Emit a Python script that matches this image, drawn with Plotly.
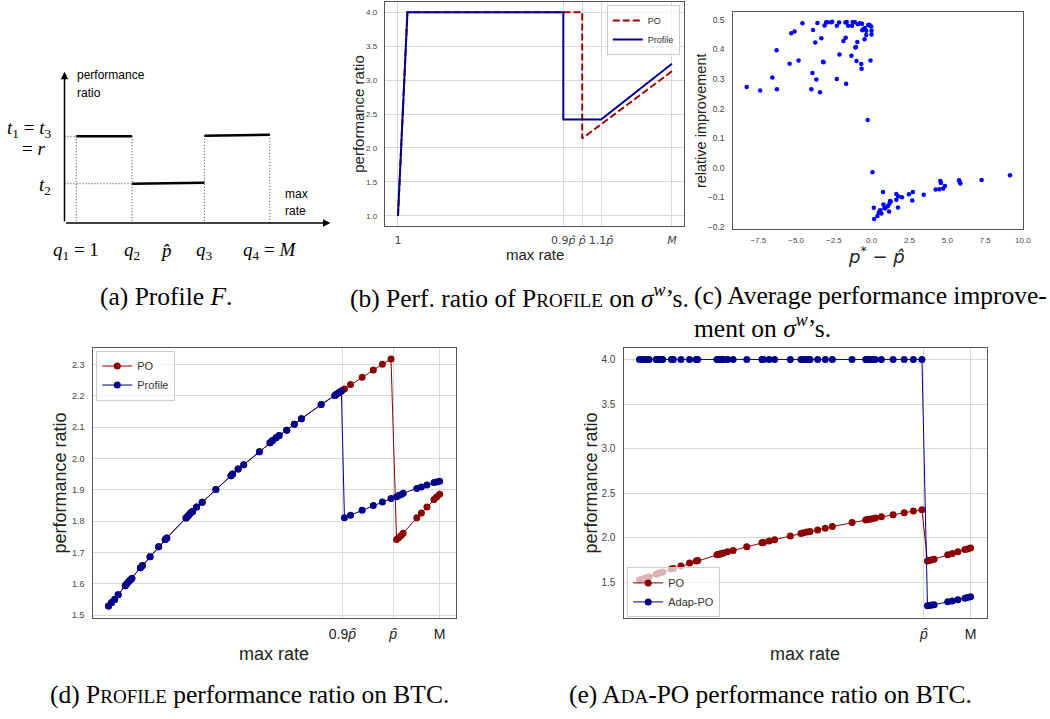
import plotly.graph_objects as go

W, H = 1050, 719

def px(x):
    return x / W

def py(y):
    return 1 - y / H

SANS = "Liberation Sans, Arial, sans-serif"
SERIF = "Liberation Serif, Times New Roman, serif"
MATH = "DejaVu Sans, sans-serif"
RED = "#8b0000"
NAVY = "#00008b"
GRID = "#d9d9d9"
FRAME = "#555555"
TICKC = "#444444"

# ---------------- data ----------------
# (a) schematic profile F
a_q = [0.22, 1.27, 2.63, 3.86]          # q1..q4 positions
a_phat = 1.90
a_t_start = [1.72, 0.78, 1.73]           # levels t1, t2, t3 (segment start)
a_t_end = [1.72, 0.80, 1.75]             # levels t1, t2, t3 (segment end)

# (b) performance ratio of PROFILE on sigma^w
b_phat = 40
b_M = 59
b_rate_po = [1, 3, 40, 40, 59]
b_ratio_po = [1.0, 4.0, 4.0, 2.14, 3.13]
b_rate_profile = [1, 3, 36, 36, 44, 59]
b_ratio_profile = [1.0, 4.0, 4.0, 2.42, 2.42, 3.24]
b_tick_vals = [1, 0.9 * b_phat, b_phat, 1.1 * b_phat, b_M]
b_tick_text = ["1", "0.9<i>p̂</i>", "<i>p̂</i>", "1.1<i>p̂</i>", "<i>M</i>"]

# (c) relative improvement vs p* - p_hat
c_x = [-8.27, -7.38, -6.57, -6.29, -6.27, -5.43, -5.32, -5.10, -4.84, -4.58,
       -3.99, -3.92, -3.88, -3.73, -3.66, -3.59, -3.42, -3.33, -3.22, -3.18,
       -3.12, -3.01, -2.92, -2.68, -2.61, -2.31, -2.31, -2.15, -2.13, -1.87,
       -1.74, -1.72, -1.69, -1.65, -1.56, -1.34, -1.30, -1.26, -1.10, -1.08,
       -1.04, -1.00, -0.95, -0.91, -0.78, -0.69, -0.67, -0.64, -0.62, -0.54,
       -0.47, -0.45, -0.36, -0.36, -0.23, -0.16, -0.12, -0.08, -0.03, -0.01,
       -0.01, -0.27, 0.05,
       0.14, 0.16, 0.38, 0.47, 0.56, 0.64, 0.75, 0.78, 0.84, 0.90,
       1.06, 1.15, 1.17, 1.21, 1.26, 1.63, 1.63, 1.74, 1.76, 2.00,
       2.46, 2.68, 2.72, 3.44, 4.23, 4.47, 4.54, 4.58, 4.73, 4.84,
       5.78, 5.82, 5.87, 7.27, 9.15]
c_y = [0.273, 0.261, 0.305, 0.397, 0.265, 0.352, 0.455, 0.461, 0.363, 0.489,
       0.265, 0.320, 0.466, 0.424, 0.298, 0.490, 0.255, 0.438, 0.358, 0.357,
       0.481, 0.492, 0.492, 0.492, 0.494, 0.480, 0.300, 0.491, 0.383, 0.429,
       0.491, 0.440, 0.284, 0.493, 0.480, 0.379, 0.480, 0.493, 0.492, 0.407,
       0.408, 0.361, 0.425, 0.485, 0.489, 0.351, 0.335, 0.487, 0.465, 0.469,
       0.435, 0.473, 0.449, 0.463, 0.483, 0.484, 0.481, 0.363, 0.478, 0.463,
       0.451, 0.161, -0.016,
       -0.136, -0.174, -0.164, -0.152, -0.144, -0.155, -0.083, -0.125, -0.138, -0.138,
       -0.131, -0.149, -0.122, -0.113, -0.115, -0.089, -0.109, -0.135, -0.097, -0.100,
       -0.090, -0.111, -0.083, -0.092, -0.074, -0.073, -0.045, -0.052, -0.071, -0.062,
       -0.043, -0.049, -0.054, -0.042, -0.026]

# (d), (e) BTC
btc_phat = 10.0
btc_M = 10.92
btc_rate = [4.38, 4.44, 4.50, 4.57, 4.71, 4.74, 4.77, 4.81, 4.84, 5.01,
            5.05, 5.20, 5.37, 5.50, 5.53, 5.91, 5.94, 5.97, 6.00, 6.04,
            6.12, 6.23, 6.50, 6.80, 6.83, 6.94, 7.05, 7.36, 7.57, 7.62,
            7.69, 7.75, 7.90, 8.05, 8.19, 8.58, 8.85, 8.88, 8.93, 8.98,
            9.04, 9.16, 9.39, 9.61, 9.79, 9.96, 10.07, 10.11, 10.16, 10.20,
            10.47, 10.56, 10.67, 10.81, 10.86, 10.92]
btc_po = [1.529, 1.540, 1.550, 1.565, 1.594, 1.600, 1.606, 1.612, 1.617, 1.651,
          1.658, 1.686, 1.718, 1.741, 1.746, 1.810, 1.815, 1.820, 1.826, 1.831,
          1.845, 1.860, 1.901, 1.945, 1.950, 1.966, 1.980, 2.021, 2.050, 2.057,
          2.066, 2.073, 2.090, 2.109, 2.127, 2.172, 2.201, 2.205, 2.210, 2.215,
          2.222, 2.236, 2.259, 2.282, 2.301, 2.317, 1.741, 1.747, 1.754, 1.761,
          1.811, 1.826, 1.845, 1.869, 1.877, 1.886]
btc_profile = [1.529, 1.540, 1.550, 1.565, 1.594, 1.600, 1.606, 1.612, 1.617, 1.651,
               1.658, 1.686, 1.718, 1.741, 1.746, 1.810, 1.815, 1.820, 1.826, 1.831,
               1.845, 1.860, 1.901, 1.945, 1.950, 1.966, 1.980, 2.021, 2.050, 2.057,
               2.066, 2.073, 2.090, 2.109, 2.127, 2.172, 2.201, 2.205, 2.210, 2.215,
               1.811, 1.819, 1.835, 1.850, 1.861, 1.872, 1.878, 1.882, 1.885, 1.889,
               1.904, 1.909, 1.915, 1.923, 1.925, 1.927]
btc_adap_po = [4.0] * 46 + [1.240, 1.243, 1.247, 1.251, 1.284, 1.293, 1.307, 1.325, 1.331, 1.340]

d_tick_vals = [0.9 * btc_phat, btc_phat, btc_M]
d_tick_text = ["0.9<i>p̂</i>", "<i>p̂</i>", "M"]
e_tick_vals = [btc_phat, btc_M]
e_tick_text = ["<i>p̂</i>", "M"]

# ---------------- figure ----------------
fig = go.Figure()

# (a) schematic
for i in range(3):
    fig.add_trace(go.Scatter(x=[a_q[i], a_q[i + 1]], y=[a_t_start[i], a_t_end[i]],
                             mode="lines", line=dict(color="black", width=2.5),
                             xaxis="x", yaxis="y", showlegend=False, hoverinfo="skip"))
dot_x = [a_q[0], a_q[0], None, a_q[1], a_q[1], None, a_q[2], a_q[2], None, a_q[3], a_q[3], None,
         0, a_q[0], None, 0, a_q[1]]
dot_y = [a_t_start[0], 0, None, a_t_end[0], 0, None, a_t_start[2], 0, None, a_t_end[2], 0, None,
         a_t_start[0], a_t_start[0], None, a_t_start[1], a_t_start[1]]
fig.add_trace(go.Scatter(x=dot_x, y=dot_y, mode="lines",
                         line=dict(color="#333333", width=1, dash="1px,2px"),
                         xaxis="x", yaxis="y", showlegend=False, hoverinfo="skip"))

# (b)
fig.add_trace(go.Scatter(x=b_rate_po, y=b_ratio_po, mode="lines", name="PO",
                         line=dict(color="#a00000", width=2, dash="7px,3px"),
                         xaxis="x2", yaxis="y2", legend="legend"))
fig.add_trace(go.Scatter(x=b_rate_profile, y=b_ratio_profile, mode="lines", name="Profile",
                         line=dict(color=NAVY, width=2),
                         xaxis="x2", yaxis="y2", legend="legend"))

# (c)
fig.add_trace(go.Scatter(x=c_x, y=c_y, mode="markers",
                         marker=dict(color="#0000ff", size=4.5),
                         xaxis="x3", yaxis="y3", showlegend=False))

# (d)
fig.add_trace(go.Scatter(x=btc_rate, y=btc_po, mode="lines+markers", name="PO",
                         line=dict(color=RED, width=1), marker=dict(color=RED, size=7),
                         xaxis="x4", yaxis="y4", legend="legend2"))
fig.add_trace(go.Scatter(x=btc_rate, y=btc_profile, mode="lines+markers", name="Profile",
                         line=dict(color=NAVY, width=1), marker=dict(color=NAVY, size=7),
                         xaxis="x4", yaxis="y4", legend="legend2"))

# (e)
fig.add_trace(go.Scatter(x=btc_rate, y=btc_po, mode="lines+markers", name="PO",
                         line=dict(color=RED, width=1), marker=dict(color=RED, size=7),
                         xaxis="x5", yaxis="y5", legend="legend3"))
fig.add_trace(go.Scatter(x=btc_rate, y=btc_adap_po, mode="lines+markers", name="Adap-PO",
                         line=dict(color=NAVY, width=1), marker=dict(color=NAVY, size=7),
                         xaxis="x5", yaxis="y5", legend="legend3"))


def framed(**kw):
    d = dict(showline=True, mirror=True, linecolor=FRAME, linewidth=1.4, zeroline=False,
             ticks="", ticklen=0, tickfont=dict(family=SANS, size=9, color=TICKC),
             showgrid=True, gridcolor=GRID, gridwidth=1, fixedrange=True)
    d.update(kw)
    return d


LEG_BG = "rgba(255,255,255,0.7)"

fig.update_layout(
    width=W, height=719, margin=dict(l=0, r=0, t=0, b=0),
    paper_bgcolor="white", plot_bgcolor="white",
    xaxis=dict(domain=[0, px(333)], range=[-1.2127, 5], visible=False, fixedrange=True),
    yaxis=dict(domain=[py(270), py(60)], range=[-0.908, 3.237], visible=False, fixedrange=True),
    xaxis2=framed(domain=[px(388), px(689)], range=[-1.74, 61.5], anchor="y2",
                  tickvals=b_tick_vals, ticktext=b_tick_text,
                  tickfont=dict(family=MATH, size=11, color=TICKC), ticklabelstandoff=4),
    yaxis2=framed(domain=[py(227), py(2)], range=[0.85, 4.15], anchor="x2",
                  dtick=0.5, tick0=0, tickformat=".1f",
                  tickfont=dict(family=SANS, size=8, color=TICKC), ticklabelstandoff=5),
    xaxis3=framed(domain=[px(739), px(1030.7)], range=[-9.15, 10.0], anchor="y3",
                  tickvals=[-7.5, -5, -2.5, 0, 2.5, 5, 7.5, 10], tickformat=".1f", showgrid=False,
                  tickfont=dict(family=SANS, size=8, color=TICKC), ticklabelstandoff=3),
    yaxis3=framed(domain=[py(230), py(12.3)], range=[-0.208, 0.526], anchor="x3",
                  dtick=0.1, tick0=0, tickformat=".1f", showgrid=False,
                  tickfont=dict(family=SANS, size=8.5, color=TICKC), ticklabelstandoff=6),
    xaxis4=framed(domain=[px(93.3), px(459.3)], range=[4.065, 11.24], anchor="y4",
                  tickvals=d_tick_vals, ticktext=d_tick_text,
                  tickfont=dict(family=SANS, size=14, color="#222222"), ticklabelstandoff=3),
    yaxis4=framed(domain=[py(621), py(349.3)], range=[1.4895, 2.353], anchor="x4",
                  dtick=0.1, tick0=0, tickformat=".1f",
                  tickfont=dict(family=SANS, size=9, color=TICKC), ticklabelstandoff=5),
    xaxis5=framed(domain=[px(628.3), px(994.3)], range=[4.065, 11.24], anchor="y5",
                  tickvals=e_tick_vals, ticktext=e_tick_text,
                  tickfont=dict(family=SANS, size=14, color="#222222"), ticklabelstandoff=3),
    yaxis5=framed(domain=[py(621), py(349.3)], range=[1.098, 4.13], anchor="x5",
                  dtick=0.5, tick0=0, tickformat=".1f",
                  tickfont=dict(family=SANS, size=10, color=TICKC), ticklabelstandoff=5),
    legend=dict(x=px(685), xanchor="right", y=py(5), yanchor="top",
                font=dict(family=SANS, size=9, color="#333"), bgcolor=LEG_BG,
                bordercolor="#cccccc", borderwidth=1, itemwidth=30, tracegroupgap=0),
    legend2=dict(x=px(97), xanchor="left", y=py(352), yanchor="top",
                 font=dict(family=SANS, size=11, color="#333"), bgcolor=LEG_BG,
                 bordercolor="#cccccc", borderwidth=1, itemwidth=30, tracegroupgap=0),
    legend3=dict(x=px(632), xanchor="left", y=py(620), yanchor="bottom",
                 font=dict(family=SANS, size=11, color="#333"), bgcolor=LEG_BG,
                 bordercolor="#cccccc", borderwidth=1, itemwidth=30, tracegroupgap=0),
)

ann = []
# (a) arrows (axes of the schematic)
ann.append(dict(x=5.0, y=0, ax=0, ay=0, xref="x", yref="y", axref="x", ayref="y",
                text="", showarrow=True, arrowhead=2, arrowsize=1, arrowwidth=1.5, arrowcolor="black"))
ann.append(dict(x=0, y=3.0, ax=0, ay=0, xref="x", yref="y", axref="x", ayref="y",
                text="", showarrow=True, arrowhead=2, arrowsize=1, arrowwidth=1.5, arrowcolor="black"))


def a_text(x, y, text, xanchor="center", size=19, family=SERIF):
    ann.append(dict(x=x, y=y, xref="x", yref="y", text=text, showarrow=False,
                    xanchor=xanchor, yanchor="middle", font=dict(family=family, size=size, color="black")))


a_text(0.19, 2.94, "performance", "left", 12, SANS)
a_text(0.19, 2.585, "ratio", "left", 12, SANS)
a_text(4.10, 0.57, "max", "left", 12, SANS)
a_text(4.10, 0.24, "rate", "left", 12, SANS)
a_text(-0.224, 1.855, "<i>t</i><sub>1</sub> = <i>t</i><sub>3</sub>", "right")
a_text(-0.336, 1.48, "= <i>r</i>", "right")
a_text(-0.224, 0.73, "<i>t</i><sub>2</sub>", "right")
a_text(a_q[0], -0.55, "<i>q</i><sub>1</sub> = 1")
a_text(a_q[1], -0.55, "<i>q</i><sub>2</sub>")
a_text(a_phat, -0.55, "<i>p̂</i>")
a_text(a_q[2], -0.55, "<i>q</i><sub>3</sub>")
a_text(a_q[3], -0.55, "<i>q</i><sub>4</sub> = <i>M</i>")


def p_text(x, y, text, size, family=SANS, angle=0, xanchor="center", color="#222222"):
    ann.append(dict(x=px(x), y=py(y), xref="paper", yref="paper", text=text, showarrow=False,
                    xanchor=xanchor, yanchor="middle", textangle=angle,
                    font=dict(family=family, size=size, color=color)))


# axis titles
p_text(361, 114, "performance ratio", 15, angle=-90)
p_text(539, 256, "max rate", 15)
p_text(707, 121, "relative improvement", 14.5, angle=-90)
p_text(883, 256, "<i>p</i><sup>*</sup> − <i>p̂</i>", 18, MATH)
p_text(60, 485, "performance ratio", 18, angle=-90)
p_text(276, 657, "max rate", 18)
p_text(596, 485, "performance ratio", 18, angle=-90)
p_text(811, 657, "max rate", 18)

# captions
CAP = 25.5
SC = "<span style='font-size:19px'>"
p_text(167, 298, "(a) Profile <i>F</i>.", CAP, SERIF, color="black")
p_text(523, 298, "(b) Perf. ratio of P" + SC + "ROFILE</span> on <i>σ</i><sup><i>w</i></sup>’s.",
       CAP, SERIF, color="black")
p_text(697, 297, "(c) Average performance improve-", CAP, SERIF, xanchor="left", color="black")
p_text(697, 328, "ment on <i>σ</i><sup><i>w</i></sup>’s.", CAP, SERIF, xanchor="left", color="black")
p_text(251, 697, "(d) P" + SC + "ROFILE</span> performance ratio on BTC.", CAP, SERIF, color="black")
p_text(776, 697, "(e) A" + SC + "DA</span>-PO performance ratio on BTC.", CAP, SERIF, color="black")

fig.update_layout(annotations=ann)
fig.write_html("out.html")
